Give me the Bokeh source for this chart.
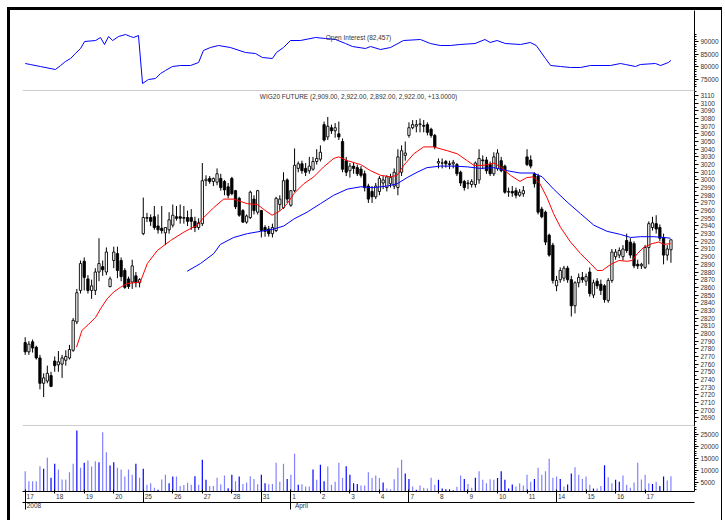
from bokeh.plotting import figure
from bokeh.layouts import column
from bokeh.models import (Range1d, LinearAxis, FixedTicker, Label, ColumnDataSource,
                          NumeralTickFormatter, Span)
from bokeh.embed import file_html
from bokeh.resources import INLINE

# ---------------- data ----------------
day_labels = ["17", "18", "19", "20", "25", "26", "27", "28", "31", "1", "2", "3",
              "4", "7", "8", "9", "10", "11", "14", "15", "16", "17"]
bars_per_day = 8
week_start_days = [4, 8, 13, 18]          # 25 Mar, 31 Mar, 7 Apr, 14 Apr
month_start_days = [0, 9]                 # 2008 (17 Mar), April
month_labels = ["2008", "April"]

opens = [2788, 2776, 2789, 2782, 2768, 2735, 2738, 2745,
         2764, 2759, 2760, 2765, 2768, 2778, 2815, 2856,
         2894, 2871, 2856, 2856, 2880, 2887, 2880, 2861,
         2895, 2904, 2895, 2882, 2871, 2867, 2875, 2866,
         2930, 2950, 2951, 2952, 2940, 2937, 2931, 2935,
         2941, 2952, 2952, 2950, 2951, 2951, 2946, 2938,
         2943, 2999, 3002, 2998, 2997, 3002, 2998, 2991,
         3002, 2986, 2976, 2960, 2945, 2951, 2975, 2958,
         2960, 2938, 2936, 2930, 2934, 2968, 2964, 3000,
         2967, 2986, 3015, 3021, 3015, 3012, 3014, 3024,
         3027, 3072, 3056, 3068, 3064, 3060, 3050, 3025,
         3012, 3018, 3016, 3014, 3008, 2992, 2985, 2978,
         2985, 2996, 2990, 2995, 2992, 2990, 3010, 3032,
         3058, 3068, 3070, 3072, 3071, 3072, 3066, 3058,
         3022, 3022, 3024, 3021, 3021, 3020, 3010, 2998,
         2995, 2994, 2994, 3000, 3026, 3026, 3020, 3008,
         3015, 3025, 3018, 2984, 2985, 2986, 2980, 2982,
         3030, 3026, 3008, 3005, 2962, 2958, 2928, 2915,
         2862, 2870, 2872, 2885, 2870, 2836, 2866, 2873,
         2868, 2880, 2850, 2868, 2864, 2862, 2843, 2869,
         2900, 2902, 2900, 2921, 2919, 2917, 2890, 2888,
         2886, 2912, 2938, 2943, 2938, 2925, 2902, 2909]
highs = [2795, 2790, 2792, 2784, 2772, 2748, 2758, 2750,
         2770, 2777, 2772, 2778, 2785, 2820, 2858, 2895,
         2899, 2876, 2870, 2885, 2924, 2895, 2912, 2874,
         2913, 2913, 2899, 2885, 2874, 2896, 2880, 2872,
         2977, 2957, 2955, 2966, 2955, 2966, 2938, 2958,
         2968, 2966, 2968, 2966, 2960, 2962, 2952, 2950,
         3022, 3006, 3005, 3003, 3015, 3008, 3000, 2996,
         3004, 2987, 2978, 2962, 2955, 2986, 2980, 2987,
         2961, 2941, 2940, 2943, 2978, 2980, 3010, 3002,
         2986, 3041, 3024, 3025, 3022, 3030, 3030, 3040,
         3045, 3076, 3082, 3072, 3074, 3076, 3054, 3030,
         3022, 3022, 3020, 3018, 3012, 2995, 2992, 2996,
         3005, 3005, 3006, 3008, 3015, 3040, 3045, 3050,
         3075, 3078, 3078, 3080, 3078, 3075, 3068, 3060,
         3028, 3028, 3026, 3025, 3026, 3022, 3012, 3000,
         3000, 3001, 3024, 3040, 3032, 3030, 3024, 3036,
         3040, 3030, 3020, 2990, 2992, 2990, 2988, 2992,
         3040, 3032, 3010, 3008, 2965, 2960, 2930, 2918,
         2875, 2886, 2888, 2888, 2875, 2868, 2878, 2880,
         2878, 2886, 2870, 2872, 2870, 2864, 2872, 2910,
         2910, 2912, 2915, 2930, 2924, 2920, 2896, 2892,
         2915, 2946, 2952, 2954, 2942, 2930, 2915, 2922]
lows = [2772, 2772, 2775, 2766, 2727, 2717, 2735, 2730,
        2750, 2750, 2742, 2758, 2766, 2776, 2812, 2852,
        2856, 2852, 2845, 2850, 2868, 2875, 2876, 2860,
        2885, 2872, 2868, 2858, 2858, 2858, 2860, 2860,
        2928, 2945, 2940, 2935, 2930, 2930, 2915, 2930,
        2938, 2947, 2943, 2943, 2940, 2935, 2932, 2935,
        2940, 2992, 2995, 2992, 2993, 2986, 2980, 2976,
        2980, 2962, 2952, 2944, 2943, 2949, 2955, 2955,
        2925, 2926, 2926, 2925, 2932, 2960, 2962, 2970,
        2965, 2984, 3010, 3008, 3005, 3008, 3012, 3020,
        3024, 3050, 3052, 3060, 3055, 3052, 3010, 3005,
        3003, 3008, 3005, 3003, 2985, 2970, 2970, 2975,
        2980, 2988, 2985, 2990, 2988, 2980, 3005, 3025,
        3055, 3066, 3062, 3062, 3062, 3058, 3055, 3040,
        3015, 3015, 3016, 3014, 3015, 3005, 2992, 2986,
        2988, 2990, 2990, 2995, 3014, 3008, 3005, 3005,
        3012, 3010, 2982, 2978, 2978, 2976, 2978, 2978,
        3018, 3015, 2990, 2955, 2950, 2915, 2900, 2865,
        2855, 2866, 2868, 2866, 2822, 2826, 2860, 2866,
        2862, 2848, 2846, 2858, 2850, 2840, 2840, 2866,
        2896, 2898, 2895, 2905, 2898, 2885, 2884, 2884,
        2884, 2890, 2934, 2930, 2920, 2890, 2895, 2892]
closes = [2776, 2786, 2781, 2768, 2735, 2742, 2748, 2731,
          2758, 2763, 2768, 2770, 2779, 2817, 2853, 2891,
          2873, 2856, 2862, 2880, 2891, 2883, 2906, 2871,
          2906, 2882, 2874, 2860, 2861, 2888, 2866, 2870,
          2951, 2951, 2946, 2938, 2935, 2934, 2938, 2948,
          2954, 2950, 2950, 2951, 2946, 2946, 2938, 2944,
          2999, 3001, 2998, 3002, 3008, 2990, 2987, 2980,
          2982, 2965, 2954, 2945, 2953, 2984, 2960, 2986,
          2934, 2933, 2930, 2938, 2976, 2975, 2999, 2975,
          2986, 3019, 3021, 3012, 3010, 3018, 3024, 3028,
          3036, 3052, 3070, 3064, 3068, 3056, 3014, 3010,
          3018, 3015, 3008, 3006, 2990, 2975, 2978, 2992,
          3002, 3000, 3004, 3003, 3010, 3030, 3038, 3035,
          3068, 3072, 3072, 3073, 3070, 3062, 3058, 3043,
          3024, 3022, 3021, 3020, 3023, 3008, 2996, 2990,
          2996, 2998, 3022, 3028, 3025, 3012, 3008, 3030,
          3035, 3012, 2984, 2985, 2983, 2980, 2984, 2986,
          3020, 3018, 2995, 2958, 2952, 2919, 2902, 2869,
          2869, 2882, 2885, 2870, 2836, 2866, 2873, 2870,
          2874, 2852, 2866, 2862, 2856, 2844, 2869, 2906,
          2906, 2908, 2910, 2908, 2902, 2888, 2888, 2890,
          2912, 2943, 2944, 2936, 2924, 2902, 2910, 2922]
volume = [9560, 5350, 5350, 5350, 11660, 10570, 15200, 6780,
          12670, 10270, 6060, 6060, 9140, 12670, 26700, 11000,
          13100, 14060, 11540, 13770, 13350, 25900, 17560, 11960,
          13350, 11000, 10270, 7330, 10270, 8040, 12670, 6780,
          10570, 3830, 4500, 2570, 1730, 6060, 8040, 4500,
          7330, 7330, 3330, 3700, 4670, 3830, 7450, 3830,
          14350, 5940, 3300, 3300, 6780, 4100, 7750, 2400,
          8040, 5350, 7330, 4200, 4790, 7450, 6300, 4100,
          8040, 4500, 4100, 4200, 13100, 5100, 12670, 6300,
          8040, 16880, 3830, 4100, 3130, 3130, 10270, 5940,
          12250, 5350, 11540, 3830, 5100, 13100, 6640, 11660,
          8040, 4500, 4200, 3540, 3540, 9140, 6640, 7750,
          6640, 4790, 2290, 1960, 6200, 11000, 14350, 8600,
          6300, 3130, 1730, 3540, 2570, 2290, 6780, 3830,
          5940, 2290, 1960, 1960, 1550, 2950, 7750, 6300,
          4200, 2570, 6780, 9500, 5940, 4500, 6200, 5940,
          6640, 9560, 5940, 2290, 4000, 3130, 4500, 3540,
          8040, 5100, 6300, 11000, 8040, 9560, 14770, 6780,
          7330, 6300, 3130, 4000, 8600, 11250, 8040, 6300,
          7330, 3830, 2290, 2290, 3300, 12100, 7050, 4500,
          5940, 5100, 7750, 3830, 2570, 4790, 13100, 6060,
          8040, 4500, 4200, 5100, 3300, 7330, 5630, 7450]
volume_dark = [5, 7, 8, 14, 16, 20, 23, 24, 30, 32, 36, 39, 40,
               46, 48, 49, 55, 56, 58, 64, 65, 71, 74, 78, 80, 81, 87,
               88, 89, 90, 97, 103, 104, 106, 112, 113, 114, 115, 116, 119, 122,
               128, 129, 130, 131, 132, 138, 145, 147, 148, 154, 157, 160, 161,
               170, 172, 173]

# moving averages (bar position, value)
ma_red_pos = [13.9, 15.4, 17.2, 19.1, 20.4, 22.2, 24.0, 25.8, 27.6, 31.2, 33.1, 35.8,
              39.4, 43.0, 46.6, 48.4, 51.1, 53.8, 56.5, 60.2, 62.9, 65.1, 66.9, 69.2,
              71.0, 72.8, 75.5, 78.2, 80.9, 83.6, 85.0, 87.3, 90.9, 93.6, 96.3, 99.0,
              100.8, 102.6, 105.3, 108.0, 110.7, 114.4, 117.1, 119.8, 121.6, 124.3,
              127.0, 128.8, 131.5, 134.1, 135.9, 137.7, 139.5, 141.4, 143.2, 145.1,
              147.8, 150.5, 153.2, 155.0, 156.4, 158.7, 160.9, 163.1, 164.5, 165.9,
              167.6, 169.9, 171.7, 173.1, 174.9]
ma_red_val = [2782, 2804, 2812, 2821, 2832, 2845, 2854, 2860, 2865, 2867, 2891, 2908,
              2921, 2932, 2941, 2951, 2964, 2975, 2975, 2969, 2968, 2960, 2954, 2960,
              2969, 2982, 2995, 3004, 3017, 3028, 3030, 3025, 3020, 3012, 3006, 3004,
              3006, 3019, 3034, 3043, 3043, 3038, 3034, 3025, 3019, 3019,
              3022, 3017, 3006, 2998, 3003, 3004, 2995, 2977, 2956, 2938,
              2919, 2904, 2891, 2882, 2882, 2890, 2895, 2894, 2895, 2904,
              2912, 2917, 2919, 2916, 2917]
ma_blue_pos = [43.9, 47.5, 51.1, 52.9, 56.5, 60.2, 63.8, 67.4, 70.1, 72.8, 76.4, 80.0,
               83.6, 87.3, 90.9, 94.5, 98.1, 100.8, 103.5, 106.2, 108.9, 112.5, 116.2,
               119.8, 123.4, 127.0, 130.6, 134.1, 137.7, 140.1, 143.2, 146.9, 150.5,
               154.1, 157.7, 161.3, 164.1, 166.7, 170.4, 173.1, 174.9]
ma_blue_val = [2881, 2891, 2904, 2916, 2925, 2930, 2933, 2936, 2940, 2949, 2958, 2969,
               2980, 2988, 2991, 2990, 2992, 2995, 3003, 3010, 3016, 3018, 3018,
               3017, 3015, 3016, 3012, 3009, 3009, 3004, 2988, 2971, 2956,
               2941, 2933, 2929, 2925, 2926, 2926, 2925, 2924]

# open interest (bar position, contracts)
oi_pos = [0, 1.4, 4.1, 8.2, 9.6, 10.9, 12.3, 13.6, 15.0, 16.1, 19.1, 20.4, 21.5, 22.6,
          23.7, 25.3, 27.2, 28.5, 29.4, 30.7, 31.8, 33.4, 35.3, 36.7, 38.0, 39.9, 42.1,
          44.8, 47.0, 48.3, 50.2, 52.4, 55.6, 59.7, 62.4, 64.3, 67.0, 68.1, 70.0, 71.9,
          74.6, 78.7, 81.4, 84.1, 86.8, 88.7, 92.2, 93.6, 96.3, 99.0, 102.5, 107.1,
          109.8, 112.5, 115.2, 117.8, 121.9, 124.6, 126.0, 127.9, 130.1, 134.2, 136.9,
          138.5, 141.0, 142.4, 145.1, 147.8, 150.5, 153.2, 158.6, 161.3, 162.7, 165.4,
          166.7, 170.8, 172.2, 174.3, 175.0]
oi_val = [81200, 80800, 80000, 78800, 80400, 82000, 83200, 85200, 87200, 90000, 90400,
          91600, 88800, 92000, 90400, 92000, 92800, 92000, 91600, 92400, 73200, 74800,
          75200, 77200, 78400, 80000, 80400, 80400, 81600, 86400, 87600, 88400, 87600,
          85600, 85200, 83600, 83200, 85600, 87600, 90400, 90400, 91600, 91200, 90800,
          89200, 88000, 87200, 88000, 86800, 87600, 90400, 90800, 89200, 88400, 88400,
          88800, 89200, 90800, 89600, 90400, 89200, 88800, 89600, 88400, 83200, 80400,
          80000, 79600, 79600, 80400, 80400, 81200, 80800, 80000, 80800, 81200, 80400,
          81600, 82457]

oi_title = "Open Interest (82,457)"
price_title = "WIG20 FUTURE (2,909.00, 2,922.00, 2,892.00, 2,922.00, +13.0000)"

# ---------------- styling ----------------
FONT = "Liberation Sans"
FS = "6.5px"
TXT = "#333333"
FRAME_W = 672
LEFT = 12
RIGHT = 24
PX_PER_BAR = 3.69

n = len(closes)
xs = list(range(n))
x0 = -0.73
x_range = Range1d(x0, x0 + FRAME_W / PX_PER_BAR)
x_mid = x0 + FRAME_W / PX_PER_BAR / 2


def make_fig(frame_h, y_range):
    p = figure(frame_width=FRAME_W, frame_height=frame_h, x_range=x_range, y_range=y_range,
               output_backend="svg", toolbar_location=None, x_axis_location=None,
               y_axis_location=None, min_border_left=LEFT, min_border_right=RIGHT,
               min_border_top=0, min_border_bottom=0)
    p.grid.visible = False
    p.outline_line_color = None
    p.background_fill_color = "white"
    p.border_fill_color = "white"
    return p


def right_axis(p, ticks, minor):
    ax = LinearAxis(ticker=FixedTicker(ticks=ticks, minor_ticks=minor),
                    formatter=NumeralTickFormatter(format="0"))
    ax.axis_line_color = "black"
    ax.major_tick_line_color = "black"
    ax.minor_tick_line_color = "black"
    ax.major_tick_in = 0
    ax.major_tick_out = 4
    ax.minor_tick_in = 0
    ax.minor_tick_out = 2
    ax.major_label_standoff = 2
    ax.major_label_text_font = FONT
    ax.major_label_text_font_size = FS
    ax.major_label_text_color = TXT
    p.add_layout(ax, "right")


def separator(p, y_range, frame_h):
    # gray rule along the bottom pixel row of a panel
    half_px = (y_range.end - y_range.start) / frame_h / 2
    p.add_layout(Span(location=y_range.start + half_px, dimension="width",
                      line_color="#9a9a9a", line_width=1))


def label_axis(p, positions, labels, minor, tin, tout, line_color, standoff=0):
    """axis line + label-less tick marks (minor) + labels set beside the marks"""
    ax = LinearAxis(ticker=FixedTicker(ticks=positions, minor_ticks=list(minor)),
                    major_label_overrides={pp: t for pp, t in zip(positions, labels)})
    ax.axis_line_color = line_color
    ax.major_tick_line_color = None
    ax.major_tick_out = 0
    ax.major_tick_in = 0
    ax.minor_tick_line_color = "black"
    ax.minor_tick_in = tin
    ax.minor_tick_out = tout
    ax.major_label_standoff = standoff
    ax.major_label_text_font = FONT
    ax.major_label_text_font_size = FS
    ax.major_label_text_color = TXT
    p.add_layout(ax, "below")
    return ax


# ---------- open interest panel ----------
oi_range = Range1d(70000, 102400)
p1 = make_fig(81, oi_range)
p1.line(oi_pos, oi_val, line_color="#0000ff", line_width=1)
right_axis(p1, [75000, 80000, 85000, 90000], list(range(72000, 94000, 1000)))
separator(p1, oi_range, 81)
p1.add_layout(Label(x=x_mid, y=91600, text=oi_title, text_align="center",
                    text_baseline="middle", text_font=FONT, text_font_size=FS,
                    text_color=TXT))

# ---------- price panel ----------
price_range = Range1d(2678.7, 3115.2)
p2 = make_fig(335, price_range)
fill = ["white" if c >= o else "black" for o, c in zip(opens, closes)]
src = ColumnDataSource(dict(x=xs, o=opens, h=highs, l=lows, c=closes,
                            top=[max(o, c) for o, c in zip(opens, closes)],
                            bot=[min(o, c) for o, c in zip(opens, closes)],
                            fill=fill))
p2.segment(x0="x", y0="l", x1="x", y1="h", line_color="black", line_width=1, source=src)
p2.vbar(x="x", width=0.62, top="top", bottom="bot", fill_color="fill",
        line_color="black", line_width=0.9, source=src)
p2.line(ma_blue_pos, ma_blue_val, line_color="#0000ff", line_width=1)
p2.line(ma_red_pos, ma_red_val, line_color="#ff0000", line_width=1)
right_axis(p2, list(range(2690, 3111, 10)), list(range(2685, 3116, 5)))
separator(p2, price_range, 335)
p2.add_layout(Label(x=x_mid, y=3108.5, text=price_title, text_align="center",
                    text_baseline="middle", text_font=FONT, text_font_size=FS,
                    text_color=TXT))

# ---------- volume panel ----------
p3 = make_fig(65, Range1d(1000, 28370))
dark = set(volume_dark)
vcol = ["#0000ff" if i in dark else "#8080ff" for i in xs]
p3.vbar(x=xs, width=0.32, top=volume, bottom=0, fill_color=vcol, line_color=None)
right_axis(p3, [5000, 10000, 15000, 20000, 25000], list(range(2000, 28001, 1000)))

day_starts = [d * bars_per_day for d in range(len(day_labels))]
# baseline: day tick marks, day labels just right of their tick
lab_pos = [round(s + (1.5 + 1.75 * len(t)) / PX_PER_BAR, 2) for s, t in zip(day_starts, day_labels)]
label_axis(p3, lab_pos, day_labels, day_starts, 2, 2, "black", standoff=0)
# week separators between the two baselines (no labels, no line)
wk = LinearAxis(ticker=FixedTicker(ticks=[], minor_ticks=[d * bars_per_day for d in week_start_days]))
wk.axis_line_color = None
wk.major_tick_out = 1
wk.major_tick_in = 0
wk.major_label_standoff = 0
wk.minor_tick_line_color = "black"
wk.minor_tick_in = 9
wk.minor_tick_out = 1
p3.add_layout(wk, "below")
# second baseline: month / year marks and labels
mpos = [round(d * bars_per_day + (1.5 + 3.6 * len(t) / 2) / PX_PER_BAR, 2)
        for d, t in zip(month_start_days, month_labels)]
label_axis(p3, mpos, month_labels, [d * bars_per_day for d in month_start_days],
           10, 7, "black", standoff=-8)
p3.min_border_bottom = 29

layout = column(p1, p2, p3, spacing=0, margin=(7, 0, 0, 7),
                styles={"border-top": "3px solid black", "border-left": "3px solid black",
                        "border-right": "1px solid black"})

open("out.html", "w").write(file_html(layout, INLINE))
